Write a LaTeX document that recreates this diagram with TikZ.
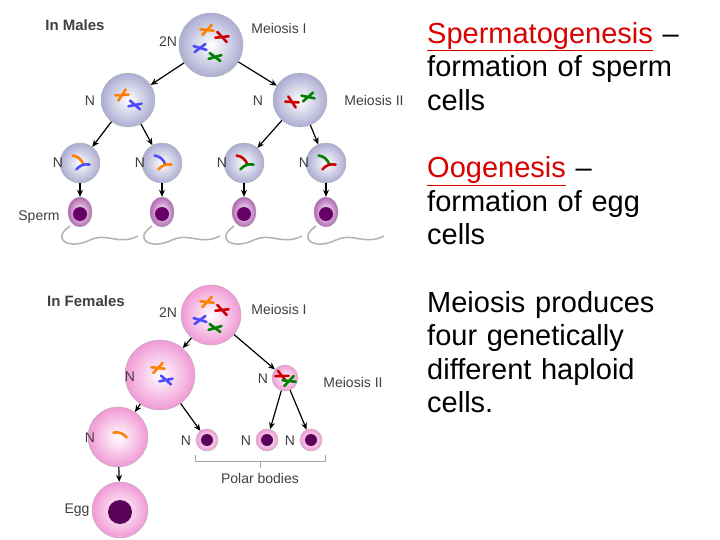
\documentclass[tikz,border=0pt]{standalone}
\usepackage{fontspec}
\setmainfont{Liberation Sans}
\usetikzlibrary{arrows.meta,positioning,shapes.geometric}
\tikzset{
  mcell/.style={circle, draw=gray!60, inner color=white, outer color=blue!30!gray!50, minimum size=#1},
  fcell/.style={circle, draw=gray!60, inner color=white, outer color=magenta!45!purple!40, minimum size=#1},
  lbl/.style={font=\fontsize{14}{16}\selectfont, text=black!75},
  arr/.style={-{Stealth[length=7pt,width=6pt]}, line width=1.2pt},
  head/.style={ellipse, draw=gray!60, inner color=white, outer color=violet!60, minimum width=24pt, minimum height=30pt},
}
\newcommand\chromx[4]{% x, y, colour, angle
  \draw[#3, line width=2.6pt, line cap=round, rotate around={#4:(#1,#2)}]
    (#1-6,#2-3) -- (#1+6,#2+3) (#1-6,#2+3) -- (#1+6,#2-3);}
\newcommand\chromi[4]{%
  \draw[#3, line width=2.6pt, line cap=round, rotate around={#4:(#1,#2)}]
    (#1-7,#2) to[bend left=30] (#1+7,#2);}
\newcommand\redul[1]{\textcolor{red!85!black}{\underline{#1}}}
\begin{document}
\begin{tikzpicture}[x=1pt,y=-1pt]
\useasboundingbox[fill=white] (0,0) rectangle (720,540);
% males
\node[lbl, font=\fontsize{15}{17}\selectfont\bfseries] at (75,25) {In Males};
\node[mcell=64pt] (m0) at (211,45) {};
\chromx{207}{30}{orange}{20} \chromx{222}{37}{red!80!black}{-20}
\chromx{200}{48}{blue!70}{10} \chromx{215}{57}{green!50!black}{-10}
\node[lbl] at (168,42) {2N};
\node[lbl] at (279,28) {Meiosis I};
\node[mcell=54pt] (m1) at (128,100) {};
\chromx{122}{95}{orange}{30} \chromx{135}{105}{blue!70}{-15}
\node[mcell=54pt] (m2) at (300,100) {};
\chromx{292}{102}{red!80!black}{-30} \chromx{308}{97}{green!50!black}{15}
\node[lbl] at (90,101) {N};
\node[lbl] at (258,101) {N};
\node[lbl] at (374,100) {Meiosis II};
\draw[arr] (m0) -- (m1);
\draw[arr] (m0) -- (m2);
\foreach \i/\x/\ca/\cb in {1/80/orange/blue!70, 2/162/blue!70/orange, 3/244/red!80!black/green!50!black, 4/326/green!50!black/red!80!black}{
  \node[mcell=40pt] (s\i) at (\x,163) {};
  \chromi{\x-2}{160}{\ca}{-40}
  \chromi{\x+3}{167}{\cb}{20}
  \node[lbl] at (\x-22,163) {N};
  \node[head] (h\i) at (\x,212) {};
  \fill[violet!80!black] (\x,214) circle (7);
  \draw[gray!60, line width=1.5pt] (\x-10,226) .. controls (\x-30,240) and (\x-10,250) .. (\x+10,240)
    .. controls (\x+28,232) and (\x+38,246) .. (\x+58,236);
  \draw[arr] (s\i) -- (h\i);
}
\draw[arr] (m1) -- (s1); \draw[arr] (m1) -- (s2);
\draw[arr] (m2) -- (s3); \draw[arr] (m2) -- (s4);
\node[lbl] at (39,217) {Sperm};
% females
\node[lbl, font=\fontsize{15}{17}\selectfont\bfseries] at (86,301) {In Females};
\node[fcell=60pt] (f0) at (211,315) {};
\chromx{207}{302}{orange}{20} \chromx{222}{310}{red!80!black}{-20}
\chromx{200}{320}{blue!70}{10} \chromx{215}{328}{green!50!black}{-10}
\node[lbl] at (168,313) {2N};
\node[lbl] at (279,309) {Meiosis I};
\node[fcell=70pt] (f1) at (160,375) {};
\chromx{158}{368}{orange}{20} \chromx{166}{380}{blue!70}{-15}
\node[fcell=26pt] (f2) at (285,378) {};
\chromx{282}{376}{red!80!black}{-25} \chromx{289}{381}{green!50!black}{20}
\node[lbl] at (130,377) {N};
\node[lbl] at (263,379) {N};
\node[lbl] at (353,382) {Meiosis II};
\draw[arr] (f0) -- (f1);
\draw[arr] (f0) -- (f2);
\node[fcell=60pt] (f3) at (118,437) {};
\chromi{120}{435}{orange}{-20}
\node[lbl] at (90,438) {N};
\foreach \i/\x in {1/207, 2/267, 3/311}{
  \node[fcell=22pt] (p\i) at (\x,440) {};
  \fill[violet!70!black] (\x,440) circle (6);
  \node[lbl] at (\x-21,441) {N};
}
\draw[arr] (f1) -- (f3);
\draw[arr] (f1) -- (p1);
\draw[arr] (f2) -- (p2);
\draw[arr] (f2) -- (p3);
\draw[gray!70] (195,455) -- (195,461) -- (325,461) -- (325,455) (260,461) -- (260,468);
\node[lbl] (pb) at (260,478) {Polar bodies};
\node[fcell=56pt] (egg) at (120,510) {};
\fill[violet!70!black] (120,512) circle (12);
\draw[arr] (f3) -- (egg);
\node[lbl] at (77,510) {Egg};
% text
\node[anchor=north west, text width=295pt, align=left, font=\fontsize{29}{33.6}\selectfont, inner sep=0pt] (txt) at (427,22)
 {\redul{Spermatogenesis} --\\formation of sperm\\cells\\[\baselineskip]
  \redul{Oogenesis} --\\formation of egg\\cells\\[\baselineskip]
  Meiosis produces\\four genetically\\different haploid\\cells.};
\end{tikzpicture}
\end{document}
